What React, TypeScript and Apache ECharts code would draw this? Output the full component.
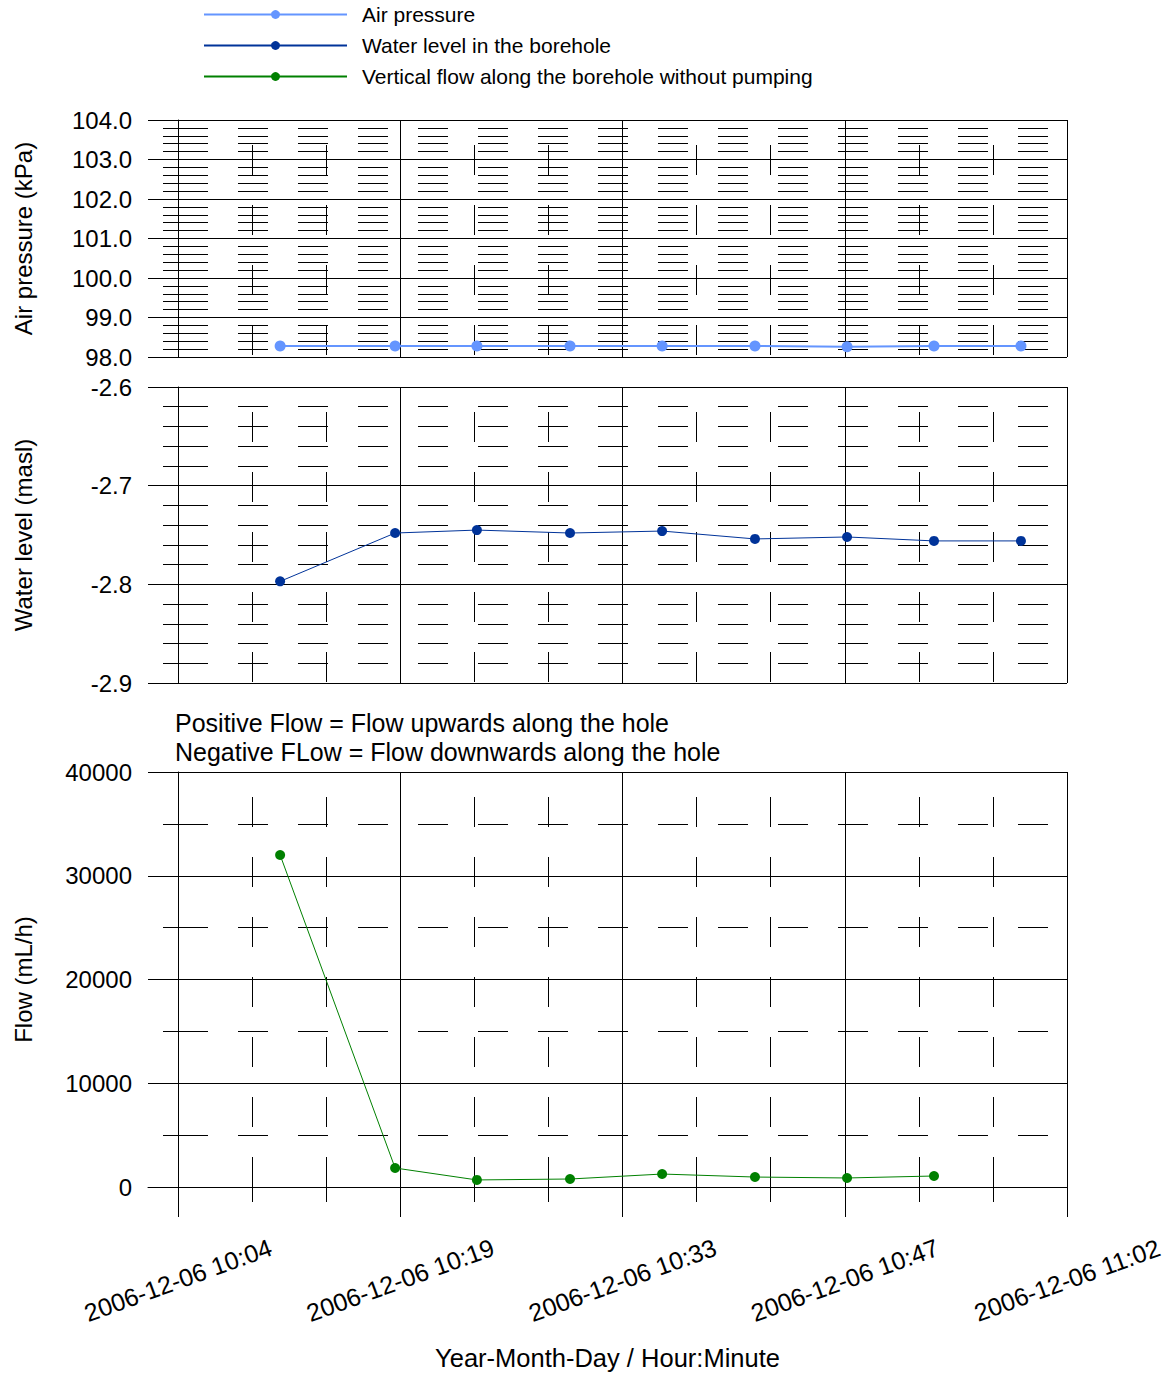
import React, { useEffect, useRef } from 'react';
import * as echarts from 'echarts';

const FONT = '"Liberation Sans", Arial, Helvetica, sans-serif';

// ---- data ----
const seriesNames = [
  'Air pressure',
  'Water level in the borehole',
  'Vertical flow along the borehole without pumping',
];
const sampleTimes = [
  '2006-12-06 10:11:25',
  '2006-12-06 10:18:52',
  '2006-12-06 10:24:10',
  '2006-12-06 10:30:12',
  '2006-12-06 10:36:10',
  '2006-12-06 10:42:11',
  '2006-12-06 10:48:09',
  '2006-12-06 10:53:47',
  '2006-12-06 10:59:25',
];
const airPressure = [98.28, 98.28, 98.28, 98.28, 98.28, 98.28, 98.26, 98.28, 98.28];
const waterLevel = [-2.797, -2.748, -2.745, -2.748, -2.746, -2.754, -2.752, -2.756, -2.756];
const flowValues = [32000, 1830, 680, 770, 1250, 960, 870, 1060];

// x axis: minutes after the value-axis crossing (2006-12-06 10:04:48)
const xAxisOrigin = '2006-12-06 10:04:48';
const xMin = -1.944;
const xMax = 57.6;
const xMajorTicks = [0, 14.4, 28.8, 43.2, 57.6];
const xMinorTicks = [4.8, 9.6, 19.2, 24, 33.6, 38.4, 48, 52.8];
const xTickLabels = [
  '2006-12-06 10:04',
  '2006-12-06 10:19',
  '2006-12-06 10:33',
  '2006-12-06 10:47',
  '2006-12-06 11:02',
];
const noteLines = [
  'Positive Flow = Flow upwards along the hole',
  'Negative FLow = Flow downwards along the hole',
];

const colors = ['#6495FF', '#003399', '#008000'];

function clockMinutes(s: string): number {
  const t = s.split(' ')[1].split(':').map(Number);
  return t[0] * 60 + t[1] + (t[2] || 0) / 60;
}
function toX(s: string): number {
  return clockMinutes(s) - clockMinutes(xAxisOrigin);
}

const BLACK = '#000';

function majorX(gridIndex: number, bottom: boolean) {
  return {
    type: 'value',
    gridIndex,
    min: xMin,
    max: xMax,
    position: 'bottom',
    axisLine: { show: bottom, lineStyle: { color: BLACK, width: 1 } },
    axisTick: {
      show: bottom,
      customValues: xMajorTicks,
      length: 30,
      lineStyle: { color: BLACK, width: 1 },
    },
    axisLabel: {
      show: bottom,
      customValues: xMajorTicks,
      formatter: (v: number) => {
        const i = xMajorTicks.findIndex((m) => Math.abs(m - v) < 1e-6);
        return i >= 0 ? xTickLabels[i] : '';
      },
      rotate: 20,
      align: 'center',
      verticalAlign: 'middle',
      margin: 93,
      fontSize: 25,
      color: BLACK,
      fontFamily: FONT,
    },
    splitLine: { show: true, lineStyle: { color: BLACK, width: 1 } },
    name: bottom ? 'Year-Month-Day / Hour:Minute' : '',
    nameLocation: 'middle',
    nameGap: 158,
    nameMoveOverlap: false,
    nameTextStyle: { fontSize: 25.5, color: BLACK, fontFamily: FONT },
  };
}

function minorX(gridIndex: number, bottom: boolean) {
  return {
    type: 'value',
    gridIndex,
    min: xMin,
    max: xMax,
    position: 'bottom',
    axisLine: { show: false },
    axisLabel: { show: false },
    axisTick: {
      show: bottom,
      customValues: xMinorTicks,
      length: 15,
      lineStyle: { color: BLACK, width: 1 },
    },
    splitLine: {
      show: true,
      lineStyle: { color: BLACK, width: 1, type: [30, 30], dashOffset: 35 },
    },
  };
}

function yAx(
  gridIndex: number,
  min: number,
  max: number,
  interval: number,
  split: number,
  decimals: number,
  name: string,
) {
  return {
    type: 'value',
    gridIndex,
    min,
    max,
    interval,
    axisLine: { show: true, onZero: true, lineStyle: { color: BLACK, width: 1 } },
    axisTick: { show: false },
    minorTick: { show: true, splitNumber: split, length: 15, lineStyle: { color: BLACK, width: 1 } },
    axisLabel: {
      formatter: (v: number) => v.toFixed(decimals),
      margin: 16,
      fontSize: 24,
      color: BLACK,
      fontFamily: FONT,
    },
    splitLine: { show: true, lineStyle: { color: BLACK, width: 1 } },
    minorSplitLine: {
      show: true,
      lineStyle: { color: BLACK, width: 1, type: [30, 30], dashOffset: 30 },
    },
    name,
    nameLocation: 'middle',
    nameGap: 113,
    nameMoveOverlap: false,
    nameTextStyle: { fontSize: 24, color: BLACK, fontFamily: FONT },
  };
}

export default function App() {
  const ref = useRef<HTMLDivElement>(null);

  useEffect(() => {
    document.body.style.margin = '0';
    if (!ref.current) return;
    const chart = echarts.init(ref.current, undefined, { renderer: 'svg' });

    const xs = sampleTimes.map(toX);

    const option: any = {
      animation: false,
      backgroundColor: '#fff',
      textStyle: { fontFamily: FONT, color: BLACK },
      legend: {
        orient: 'vertical',
        left: 203,
        top: 4,
        padding: 0,
        itemWidth: 143,
        itemHeight: 11,
        itemGap: 10,
        textStyle: { fontSize: 21, color: BLACK, fontFamily: FONT, padding: [0, 0, 0, 10] },
        data: seriesNames,
      },
      grid: [
        { left: 148, right: 109, top: 120, height: 237, outerBoundsMode: 'none' },
        { left: 148, right: 109, top: 387, height: 296, outerBoundsMode: 'none' },
        { left: 148, right: 109, top: 772, height: 415, outerBoundsMode: 'none' },
      ],
      xAxis: [
        majorX(0, false),
        minorX(0, false),
        majorX(1, false),
        minorX(1, false),
        majorX(2, true),
        minorX(2, true),
      ],
      yAxis: [
        yAx(0, 98, 104, 1, 5, 1, 'Air pressure (kPa)'),
        yAx(1, -2.9, -2.6, 0.1, 5, 1, 'Water level (masl)'),
        yAx(2, 0, 40000, 10000, 2, 0, 'Flow (mL/h)'),
      ],
      graphic: [
        {
          type: 'text',
          left: 175,
          top: 708,
          style: {
            text: noteLines.join('\n'),
            fontSize: 25,
            lineHeight: 29,
            fill: BLACK,
            fontFamily: FONT,
          },
        },
      ],
      series: [
        {
          name: seriesNames[0],
          type: 'line',
          xAxisIndex: 0,
          yAxisIndex: 0,
          data: airPressure.map((v, i) => [xs[i], v]),
          symbol: 'circle',
          symbolSize: 11,
          showAllSymbol: true,
          lineStyle: { color: colors[0], width: 2 },
          itemStyle: { color: colors[0] },
          z: 5,
        },
        {
          name: seriesNames[1],
          type: 'line',
          xAxisIndex: 2,
          yAxisIndex: 1,
          data: waterLevel.map((v, i) => [xs[i], v]),
          symbol: 'circle',
          symbolSize: 10,
          showAllSymbol: true,
          lineStyle: { color: colors[1], width: 1 },
          itemStyle: { color: colors[1] },
          z: 5,
        },
        {
          name: seriesNames[2],
          type: 'line',
          xAxisIndex: 4,
          yAxisIndex: 2,
          data: flowValues.map((v, i) => [xs[i], v]),
          symbol: 'circle',
          symbolSize: 10,
          showAllSymbol: true,
          lineStyle: { color: colors[2], width: 1 },
          itemStyle: { color: colors[2] },
          z: 5,
        },
      ],
    };

    chart.setOption(option);
    return () => chart.dispose();
  }, []);

  return <div ref={ref} style={{ width: 1176, height: 1375 }} />;
}
